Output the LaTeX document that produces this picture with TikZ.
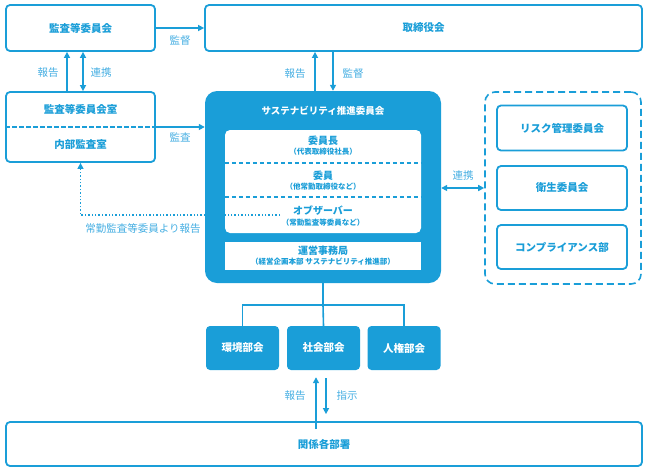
\documentclass[tikz,border=0pt]{standalone}
\usepackage{fontspec}
\setmainfont{Noto Sans CJK JP}
\usetikzlibrary{arrows.meta}
\definecolor{mblue}{HTML}{1A9ED8}
\definecolor{lblue}{HTML}{45AEE2}
\tikzset{
  wbox/.style={draw=mblue, line width=1.8pt, fill=white, rounded corners=4pt, text=mblue, font=\bfseries\fontsize{10.5}{12}\selectfont, inner sep=0pt},
  bbox/.style={fill=mblue, rounded corners=4pt, text=white, font=\bfseries\fontsize{10.5}{12}\selectfont, inner sep=0pt},
  conn/.style={draw=mblue, line width=1.6pt},
  arr/.style={conn, -{Triangle[length=6pt,width=6pt]}},
  darr/.style={conn, {Triangle[length=6pt,width=6pt]}-{Triangle[length=6pt,width=6pt]}},
  lbl/.style={text=lblue, font=\fontsize{10.5}{12}\selectfont, inner sep=0pt},
  intitle/.style={text=mblue, font=\bfseries\fontsize{10}{12}\selectfont, inner sep=0pt},
  insub/.style={text=mblue, font=\bfseries\fontsize{7.5}{9}\selectfont, inner sep=0pt},
  sepline/.style={draw=mblue, line width=1.4pt, dash pattern=on 4.5pt off 2.5pt},
}
\begin{document}
\begin{tikzpicture}[x=1pt,y=-1pt]
\useasboundingbox (0,0) rectangle (648,472);
% top row
\node[wbox, minimum width=149pt, minimum height=46pt] (A) at (80.5,28) {監査等委員会};
\node[wbox, minimum width=437pt, minimum height=46pt] (B) at (423.5,28) {取締役会};
% audit office
\node[wbox, minimum width=149pt, minimum height=70pt] (C) at (80.5,127) {};
\draw[sepline] (C.west) -- (C.east);
\node[intitle, font=\bfseries\fontsize{10.5}{12}\selectfont] (C1) at (80.5,109) {監査等委員会室};
\node[intitle, font=\bfseries\fontsize{10.5}{12}\selectfont] (C2) at (80.5,145) {内部監査室};
% sustainability committee
\node[fill=mblue, rounded corners=12pt, minimum width=236pt, minimum height=192pt, inner sep=0pt] (S) at (323,187) {};
\node[text=white, font=\bfseries\fontsize{9.5}{12}\selectfont, inner sep=0pt] (ST) at (323,111) {サステナビリティ推進委員会};
\node[fill=white, rounded corners=5pt, minimum width=196pt, minimum height=103pt, inner sep=0pt] (W) at (323,181.5) {};
\draw[sepline] (W.west |- 0,163) -- (W.east |- 0,163);
\draw[sepline] (W.west |- 0,197) -- (W.east |- 0,197);
\node[intitle] (W1) at (323,141) {委員長};
\node[insub] (W1s) at (323,152) {（代表取締役社長）};
\node[intitle] (W2) at (323,176) {委員};
\node[insub] (W2s) at (323,187) {（他常勤取締役など）};
\node[intitle] (W3) at (323,211) {オブザーバー};
\node[insub] (W3s) at (323,223) {（常勤監査等委員など）};
\node[fill=white, minimum width=196pt, minimum height=28pt, inner sep=0pt] (O) at (323,256) {};
\node[intitle] (O1) at (323,251) {運営事務局};
\node[insub] (O1s) at (323,262) {（経営企画本部 サステナビリティ推進部）};
% right group
\node[draw=mblue, line width=1.6pt, dash pattern=on 7pt off 4pt, rounded corners=10pt, minimum width=156pt, minimum height=192pt, inner sep=0pt] (G) at (563,188) {};
\node[wbox, minimum width=130pt, minimum height=45pt] (R1) at (562,128) {リスク管理委員会};
\node[wbox, minimum width=130pt, minimum height=44pt] (R2) at (562,188) {衛生委員会};
\node[wbox, minimum width=130pt, minimum height=44pt] (R3) at (562,247) {コンプライアンス部};
% subcommittees
\node[bbox, minimum width=73pt, minimum height=44pt] (K1) at (242.5,348) {環境部会};
\node[bbox, minimum width=73pt, minimum height=44pt] (K2) at (323.5,348) {社会部会};
\node[bbox, minimum width=73pt, minimum height=44pt] (K3) at (404,348) {人権部会};
% bottom
\node[wbox, minimum width=636pt, minimum height=44pt] (D) at (324,444) {関係各部署};
% connectors
\draw[arr] (A) -- (B);
\node[lbl] (L1) at (180,41) {監督};
\draw[arr] ([xshift=-13.5pt]C.north) -- ([xshift=-13.5pt]A.south);
\draw[darr] ([xshift=2.5pt]C.north) -- ([xshift=2.5pt]A.south);
\node[lbl] (L2) at (48,73) {報告};
\node[lbl] (L3) at (101,73) {連携};
\draw[arr] (C.east) -- (C.east -| S.west);
\node[lbl] (L4) at (180,137) {監査};
\draw[arr] ([xshift=-8pt]S.north) -- ([xshift=-8pt]S.north |- B.south);
\draw[arr] ([xshift=10pt]S.north |- B.south) -- ([xshift=10pt]S.north);
\node[lbl] (L5) at (295,74) {報告};
\node[lbl] (L6) at (353,74) {監督};
\draw[darr] (S.east |- G.west) -- (G.west);
\node[lbl] (L7) at (463,176) {連携};
\coordinate (obs) at (280,215);
\draw[conn, line width=1.4pt, dotted, -{Triangle[length=6pt,width=6pt]}] (obs) -| (C.south);
\node[lbl] (L8) at (143,229) {常勤監査等委員より報告};
\coordinate (junc) at (323,305);
\draw[conn] (S.south) -- (junc);
\draw[conn] (K1.north) |- (junc) -| (K3.north);
\draw[conn] (junc) -- (K2.north);
\draw[arr] ([xshift=-7.5pt,yshift=-8pt]D.north -| K2.south) -- ([xshift=-7.5pt,yshift=-7pt]K2.south);
\draw[arr] ([xshift=2.5pt,yshift=-8pt]K2.south) -- ([xshift=2.5pt,yshift=7pt]D.north -| K2.south);
\node[lbl] (L9) at (295,396) {報告};
\node[lbl] (L10) at (347,396) {指示};
\end{tikzpicture}
\end{document}
